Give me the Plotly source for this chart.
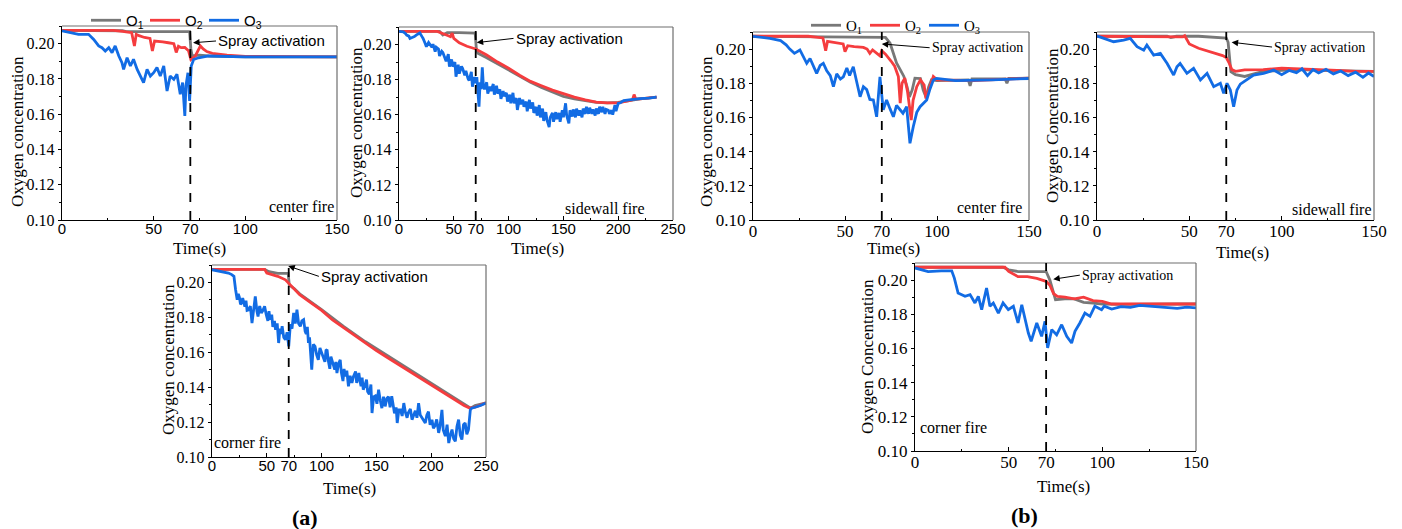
import plotly.graph_objects as go

# ---------------- DATA ----------------
# (a) center fire
a_c_t1 = [0, 20, 33, 35, 55, 69.6, 70.3, 71, 75, 80, 100, 150]
a_c_o1 = [0.2075, 0.2075, 0.2073, 0.2068, 0.2068, 0.2068, 0.197, 0.193, 0.1935, 0.193, 0.1925, 0.1925]
a_c_t2 = [0, 28, 33, 38, 39.5, 40.5, 42, 45, 48, 49.3, 50.5, 52, 55, 58, 61, 62.3, 63.5, 65, 67, 69, 70.3, 72.7, 74, 75.5, 77, 79, 82, 86, 90, 100, 150]
a_c_o2 = [0.2075, 0.2075, 0.207, 0.2062, 0.1987, 0.2053, 0.2045, 0.2035, 0.203, 0.1958, 0.2015, 0.2012, 0.201, 0.2005, 0.2, 0.195, 0.1985, 0.1977, 0.1978, 0.196, 0.191, 0.193, 0.196, 0.1987, 0.197, 0.1955, 0.1945, 0.194, 0.1935, 0.1928, 0.1925]
a_c_t3 = [0, 9, 14.5, 17.3, 20, 21.8, 23.6, 25.5, 27.3, 29, 31, 32.7, 33.6, 35.5, 37.3, 39, 41, 42.7, 44.5, 46.4, 48.2, 50, 51.8, 53.6, 55.5, 57.3, 59, 61, 62.7, 64.5, 65.8, 67, 67.6, 68.7, 69.6, 70.5, 71.8, 74.5, 80, 100, 150]
a_c_o3 = [0.2072, 0.2053, 0.2053, 0.2024, 0.1987, 0.1977, 0.1958, 0.1977, 0.1949, 0.1987, 0.193, 0.1892, 0.1854, 0.192, 0.1873, 0.1911, 0.1854, 0.1816, 0.1779, 0.1854, 0.1816, 0.1835, 0.1864, 0.1816, 0.1873, 0.1731, 0.1816, 0.1797, 0.1826, 0.1713, 0.1779, 0.159, 0.1760, 0.1835, 0.1675, 0.1873, 0.191, 0.192, 0.193, 0.1925, 0.1925]

# (a) sidewall fire
a_s_t1 = [0, 37, 40, 44, 55, 69.5, 70.5, 72, 80, 90, 100, 110, 120, 130, 140, 150, 160, 170, 180, 190, 200, 210, 220, 235]
a_s_o1 = [0.2075, 0.2075, 0.2055, 0.2068, 0.2068, 0.2065, 0.198, 0.195, 0.1925, 0.189, 0.1855, 0.182, 0.1785, 0.1755, 0.173, 0.1705, 0.169, 0.1678, 0.167, 0.1668, 0.167, 0.168, 0.169, 0.170]
a_s_t2 = [0, 35, 45, 47, 48.5, 50, 55, 62, 70, 80, 90, 100, 110, 120, 130, 140, 150, 160, 170, 180, 190, 200, 210, 213, 214.5, 216, 220, 235]
a_s_o2 = [0.2075, 0.2075, 0.205, 0.2045, 0.2065, 0.2035, 0.201, 0.199, 0.1975, 0.194, 0.190, 0.1865, 0.1825, 0.179, 0.1765, 0.174, 0.172, 0.170, 0.1685, 0.1672, 0.1668, 0.1668, 0.168, 0.1685, 0.1715, 0.169, 0.169, 0.170]
a_s_o3_pts = [(0, 0.2075), (2, 0.2074), (4, 0.2072), (6, 0.2062), (7, 0.2054), (9, 0.2048), (10, 0.2035), (12, 0.204), (14, 0.2045), (16, 0.2055), (19, 0.2066), (21, 0.2045), (22, 0.2035), (24, 0.2005), (25, 0.1988), (27, 0.2012), (28, 0.200), (30, 0.1985), (31, 0.2002), (33, 0.196), (34, 0.1985), (36, 0.1975), (37, 0.1935), (39, 0.1962), (40, 0.1955), (42, 0.1925), (43, 0.1905), (45, 0.1945), (46, 0.1874), (48, 0.1915), (49, 0.1874), (51, 0.190), (52, 0.1817), (54, 0.1885), (55, 0.1835), (57, 0.1875), (58, 0.1865), (60, 0.1825), (61, 0.185), (63, 0.1805), (64, 0.1795), (66, 0.1845), (67, 0.176), (69, 0.1815), (70, 0.178), (71, 0.1815), (72, 0.1705), (73, 0.1646), (74, 0.1785), (75, 0.1745), (76, 0.187), (77, 0.1765), (78, 0.1745), (80, 0.1785), (81, 0.172), (83, 0.176), (84, 0.1735), (86, 0.1775), (87, 0.1715), (89, 0.1765), (90, 0.172), (92, 0.1745), (93, 0.169), (95, 0.1735), (96, 0.1705), (98, 0.1725), (99, 0.1675), (101, 0.1715), (102, 0.1665), (104, 0.1725), (105, 0.1665), (107, 0.1695), (108, 0.1627), (110, 0.1695), (111, 0.166), (113, 0.1685), (114, 0.1645), (116, 0.1675), (117, 0.162), (119, 0.1685), (120, 0.1635), (122, 0.167), (123, 0.161), (125, 0.1645), (126, 0.1595), (128, 0.1655), (129, 0.1585), (131, 0.1635), (132, 0.1565), (134, 0.1615), (135, 0.157), (137, 0.153), (138, 0.1585), (140, 0.161), (141, 0.156), (143, 0.1615), (144, 0.1575), (146, 0.161), (147, 0.156), (149, 0.1625), (150, 0.1585), (152, 0.1665), (153, 0.1595), (155, 0.155), (156, 0.1625), (158, 0.159), (159, 0.163), (161, 0.1585), (162, 0.1635), (164, 0.1595), (165, 0.1625), (167, 0.1585), (168, 0.1635), (170, 0.1605), (171, 0.1645), (173, 0.1605), (174, 0.164), (176, 0.1605), (177, 0.163), (179, 0.1595), (180, 0.1635), (182, 0.1605), (183, 0.1645), (185, 0.1615), (186, 0.1645), (188, 0.1605), (189, 0.163), (191, 0.1625), (192, 0.1605), (194, 0.1625), (195, 0.160), (197, 0.1655), (198, 0.162), (200, 0.1665), (202, 0.1668), (205, 0.168), (210, 0.1685), (215, 0.169), (220, 0.1692), (228, 0.1695), (235, 0.170)]

# (a) corner fire
a_k_t1 = [0, 48, 52, 60, 69.5, 70.5, 75, 80, 100, 120, 140, 160, 180, 200, 220, 230, 236, 240, 250]
a_k_o1 = [0.2075, 0.2075, 0.2062, 0.2052, 0.2052, 0.1985, 0.1965, 0.1935, 0.1845, 0.1748, 0.166, 0.158, 0.15, 0.142, 0.134, 0.130, 0.128, 0.1295, 0.131]
a_k_t2 = [0, 48, 50, 55, 60, 67, 70, 75, 80, 90, 100, 110, 120, 130, 140, 150, 160, 170, 180, 190, 200, 210, 220, 230, 235, 240, 250]
a_k_o2 = [0.2075, 0.2075, 0.2054, 0.2045, 0.2035, 0.2015, 0.1995, 0.196, 0.193, 0.1885, 0.184, 0.1785, 0.174, 0.1695, 0.165, 0.161, 0.157, 0.153, 0.149, 0.145, 0.141, 0.137, 0.1335, 0.1295, 0.128, 0.1285, 0.131]
a_k_o3_pts = [(0, 0.2073), (5, 0.2068), (10, 0.2062), (15, 0.2054), (18, 0.2045), (20, 0.2035), (21.5, 0.196), (23, 0.1901), (24, 0.1935), (25, 0.1915), (26, 0.1875), (27, 0.1882), (28, 0.191), (29, 0.1875), (30, 0.1862), (31, 0.1895), (32, 0.184), (33.5, 0.1843), (35, 0.1865), (36.5, 0.1767), (38, 0.184), (39.5, 0.192), (41, 0.1835), (42, 0.1805), (43.5, 0.1865), (45, 0.1825), (46.5, 0.184), (48, 0.1863), (49.5, 0.1815), (51, 0.178), (52, 0.1835), (53, 0.1787), (54.5, 0.1815), (55.5, 0.1745), (57, 0.178), (58, 0.1729), (59.5, 0.1765), (60.8, 0.1653), (62, 0.1735), (63, 0.1705), (64, 0.1749), (65.5, 0.1685), (67, 0.1672), (68.5, 0.1715), (70, 0.1634), (71.5, 0.176), (73, 0.1735), (74.5, 0.1825), (76, 0.1765), (77.5, 0.1844), (79, 0.1765), (80.6, 0.1749), (82, 0.178), (83.6, 0.1787), (85, 0.172), (86, 0.1705), (87, 0.1745), (88, 0.1653), (89, 0.1685), (90, 0.1615), (91, 0.150), (92.5, 0.1645), (94, 0.1634), (95.5, 0.1585), (97, 0.1557), (98.5, 0.1625), (100, 0.1596), (101.5, 0.1565), (103, 0.1545), (104, 0.161), (105, 0.1615), (106, 0.1555), (107.5, 0.1505), (108.5, 0.1575), (109.5, 0.1557), (111, 0.1525), (112, 0.150), (113, 0.1545), (114, 0.1481), (115.5, 0.1535), (117, 0.1557), (118, 0.1485), (119.5, 0.1435), (120.5, 0.1505), (121.6, 0.1462), (123, 0.1495), (124.5, 0.1405), (126, 0.1465), (127.7, 0.1424), (129, 0.146), (131, 0.149), (132, 0.1425), (134, 0.1481), (135, 0.1435), (136, 0.1405), (137, 0.1455), (138, 0.1386), (139.5, 0.141), (141, 0.1443), (142, 0.1375), (143.5, 0.136), (145, 0.1415), (146, 0.1252), (147.5, 0.1345), (149, 0.135), (150.5, 0.1305), (152, 0.1386), (153.5, 0.1325), (155, 0.128), (156.5, 0.1345), (158, 0.129), (159.5, 0.1335), (161, 0.1345), (162.5, 0.1285), (164, 0.1348), (165, 0.131), (166.5, 0.125), (168, 0.1285), (169, 0.1195), (170.5, 0.127), (172, 0.127), (173.5, 0.1235), (175, 0.1309), (176.5, 0.1255), (178, 0.1225), (179, 0.1252), (181, 0.1275), (182.5, 0.1214), (184, 0.1245), (185.5, 0.1265), (187, 0.1225), (188.5, 0.1309), (190, 0.124), (191.5, 0.1225), (193, 0.121), (194.6, 0.1195), (196, 0.124), (197.5, 0.126), (199, 0.1185), (200.7, 0.1214), (202, 0.1165), (203.5, 0.118), (205, 0.1215), (206.8, 0.1138), (208, 0.1175), (209.8, 0.127), (211, 0.1155), (212.9, 0.112), (214.5, 0.1185), (216, 0.108), (217.5, 0.1125), (219, 0.1157), (220.5, 0.1105), (222, 0.109), (223.5, 0.1175), (225, 0.1214), (226.5, 0.1125), (228, 0.110), (229.5, 0.1185), (231, 0.1195), (232.5, 0.113), (234, 0.1157), (235.7, 0.127), (237, 0.128), (240, 0.1285), (245, 0.1295), (250, 0.131)]

# (b) center fire
b_c_t1 = [0, 30, 60, 70, 72, 74.5, 76, 78, 80, 82, 83.7, 85, 86.5, 88, 91, 92.5, 94, 95.5, 97, 100, 117, 118, 119, 137, 138, 139, 150]
b_c_o1 = [0.2075, 0.2072, 0.207, 0.207, 0.2068, 0.2034, 0.198, 0.1919, 0.188, 0.184, 0.178, 0.172, 0.176, 0.183, 0.1828, 0.176, 0.172, 0.178, 0.182, 0.1815, 0.182, 0.1785, 0.1825, 0.1825, 0.180, 0.1828, 0.183]
b_c_t2 = [0, 30, 38, 39.5, 40.5, 45, 49, 50, 51.5, 55, 60, 62, 63.5, 65, 67.5, 69, 70, 72, 75, 77, 79, 80, 81, 82.5, 84, 86, 87, 89, 91, 93, 94, 96, 98, 100, 120, 150]
b_c_o2 = [0.2075, 0.2075, 0.2065, 0.199, 0.2045, 0.2035, 0.203, 0.1985, 0.202, 0.2015, 0.201, 0.2, 0.1975, 0.1995, 0.197, 0.196, 0.199, 0.197, 0.193, 0.190, 0.184, 0.1684, 0.180, 0.183, 0.175, 0.1585, 0.170, 0.178, 0.182, 0.179, 0.171, 0.178, 0.184, 0.182, 0.1815, 0.183]
b_c_t3 = [0, 9.2, 15, 18, 20, 22.5, 25.5, 27, 29.2, 31, 33, 34.6, 36.5, 38.2, 40, 42, 43.7, 45.5, 47.5, 49.1, 51, 52.5, 54.5, 56.5, 58.2, 60, 61.8, 63.5, 65.4, 67.2, 69, 70.8, 72.6, 74.5, 76.3, 78, 79.9, 81.5, 83.5, 85.3, 87.1, 89, 90.8, 92.5, 94.4, 96, 98, 99.8, 110, 130, 150]
b_c_o3 = [0.2075, 0.2063, 0.205, 0.2025, 0.200, 0.1975, 0.1995, 0.1965, 0.1917, 0.1945, 0.1895, 0.1858, 0.1905, 0.1917, 0.1875, 0.1845, 0.178, 0.1855, 0.1825, 0.1838, 0.189, 0.1845, 0.1897, 0.181, 0.1721, 0.178, 0.1763, 0.1705, 0.1702, 0.1604, 0.1838, 0.1644, 0.1702, 0.165, 0.1604, 0.167, 0.1644, 0.1625, 0.1663, 0.1449, 0.1546, 0.163, 0.1663, 0.168, 0.1702, 0.176, 0.1819, 0.1829, 0.1815, 0.182, 0.1828]

# (b) sidewall fire
b_s_t1 = [0, 38, 40, 43, 55, 65, 70, 71, 72.5, 75, 80, 85, 90, 100, 110, 120, 130, 140, 150]
b_s_o1 = [0.2075, 0.2075, 0.2068, 0.2075, 0.2075, 0.207, 0.2065, 0.204, 0.1868, 0.185, 0.184, 0.1855, 0.187, 0.1875, 0.188, 0.1875, 0.1872, 0.187, 0.187]
b_s_t2 = [0, 45, 46.5, 47.5, 50, 55, 62, 68, 70, 71.5, 73, 75, 80, 90, 100, 110, 120, 130, 140, 150]
b_s_o2 = [0.2075, 0.2075, 0.2072, 0.2078, 0.203, 0.2005, 0.198, 0.1962, 0.195, 0.192, 0.188, 0.187, 0.1878, 0.188, 0.1888, 0.1882, 0.188, 0.1875, 0.187, 0.187]
b_s_t3 = [0, 9, 14.4, 18, 21.7, 25.3, 27, 30.7, 34.3, 38, 41.5, 43.3, 45, 48.7, 52.3, 56, 59.6, 63.2, 66.8, 68.6, 70.4, 72.2, 74, 75.8, 77.6, 81.2, 84.8, 90.2, 95.7, 100, 104, 108, 111, 114, 117, 120, 124, 128, 132, 136, 140, 144, 147, 150]
b_s_o3 = [0.2077, 0.2043, 0.2053, 0.2063, 0.2014, 0.1994, 0.2024, 0.1965, 0.1975, 0.1916, 0.1848, 0.1897, 0.1916, 0.1858, 0.1887, 0.1819, 0.1858, 0.178, 0.18, 0.1741, 0.18, 0.1761, 0.1663, 0.1761, 0.1795, 0.1819, 0.1848, 0.1858, 0.1877, 0.185, 0.1875, 0.1862, 0.1885, 0.1845, 0.188, 0.186, 0.1882, 0.1855, 0.1872, 0.1845, 0.1865, 0.1835, 0.186, 0.184]

# (b) corner fire
b_k_t1 = [0, 47, 50, 55, 70, 72, 75, 80, 85, 90, 95, 100, 110, 120, 130, 140, 150]
b_k_o1 = [0.2075, 0.2075, 0.206, 0.205, 0.205, 0.200, 0.1885, 0.189, 0.189, 0.187, 0.1866, 0.186, 0.1858, 0.186, 0.186, 0.186, 0.186]
b_k_t2 = [0, 48, 50, 55, 60, 65, 70, 72, 74, 76, 80, 85, 90, 95, 100, 105, 110, 120, 130, 140, 150]
b_k_o2 = [0.2075, 0.2075, 0.2051, 0.202, 0.202, 0.201, 0.1993, 0.197, 0.192, 0.1905, 0.190, 0.189, 0.190, 0.188, 0.1875, 0.186, 0.186, 0.186, 0.1862, 0.186, 0.186]
b_k_t3 = [0, 7, 14, 19.6, 21, 23, 26.7, 29.4, 32, 33.8, 35.6, 38.2, 40, 41.8, 44.5, 47, 49.8, 52.5, 55, 57, 60.5, 62, 65, 67.6, 69.4, 70.8, 73, 75.6, 78.3, 81, 83.6, 85.4, 88, 90.7, 93.4, 96, 99.6, 101, 105, 110, 115, 120, 125, 130, 135, 140, 145, 150]
b_k_o3 = [0.2071, 0.205, 0.2054, 0.2054, 0.2012, 0.1924, 0.1905, 0.1915, 0.1866, 0.1905, 0.1827, 0.1954, 0.1847, 0.1866, 0.1807, 0.1866, 0.1827, 0.1847, 0.1749, 0.1856, 0.169, 0.1642, 0.1749, 0.1671, 0.1759, 0.1603, 0.171, 0.168, 0.1739, 0.1671, 0.1632, 0.170, 0.1749, 0.1807, 0.1788, 0.1847, 0.1827, 0.1847, 0.183, 0.1845, 0.184, 0.1852, 0.1848, 0.1845, 0.184, 0.1835, 0.1842, 0.1838]

x_ticks_150 = [0, 50, 70, 100, 150]
x_ticks_250 = [0, 50, 70, 100, 150, 200, 250]
y_ticks = [0.10, 0.12, 0.14, 0.16, 0.18, 0.20]
series_names = ["O<sub>1</sub>", "O<sub>2</sub>", "O<sub>3</sub>"]

a_s_t3 = [p[0] for p in a_s_o3_pts]
a_s_o3 = [p[1] for p in a_s_o3_pts]
a_k_t3 = [p[0] for p in a_k_o3_pts]
a_k_o3 = [p[1] for p in a_k_o3_pts]

# ---------------- STYLE ----------------
C_GRAY = "rgb(120,120,120)"
C_RED = "rgb(245,60,62)"
C_BLUE = "rgb(18,108,228)"
SERIF = "Liberation Serif"
SANS = "Liberation Sans"
OFF = 8                      # page body margin of the html page
W, H = 1402 - OFF, 529 - OFF


def fx(px):
    return (px - OFF) / W


def fy(py):
    return 1 - (py - OFF) / H


def dx(a, b):
    return [fx(a), fx(b)]


def dy(top, bottom):
    return [fy(bottom), fy(top)]


panels = [
    dict(s=[(a_c_t1, a_c_o1), (a_c_t2, a_c_o2), (a_c_t3, a_c_o3)], xmax=150, xt=x_ticks_150, xd=(62, 337), yd=(26, 220), xf=SANS, legend="legend"),
    dict(s=[(a_s_t1, a_s_o1), (a_s_t2, a_s_o2), (a_s_t3, a_s_o3)], xmax=250, xt=x_ticks_250, xd=(399, 673), yd=(27, 220), xf=SANS, legend=None),
    dict(s=[(b_c_t1, b_c_o1), (b_c_t2, b_c_o2), (b_c_t3, b_c_o3)], xmax=150, xt=x_ticks_150, xd=(753, 1029), yd=(32, 220), xf=SERIF, legend="legend2"),
    dict(s=[(b_s_t1, b_s_o1), (b_s_t2, b_s_o2), (b_s_t3, b_s_o3)], xmax=150, xt=x_ticks_150, xd=(1097, 1374), yd=(32, 220), xf=SERIF, legend=None),
    dict(s=[(a_k_t1, a_k_o1), (a_k_t2, a_k_o2), (a_k_t3, a_k_o3)], xmax=250, xt=x_ticks_250, xd=(212, 486), yd=(265, 457), xf=SANS, legend=None),
    dict(s=[(b_k_t1, b_k_o1), (b_k_t2, b_k_o2), (b_k_t3, b_k_o3)], xmax=150, xt=x_ticks_150, xd=(915, 1196), yd=(263, 451), xf=SERIF, legend=None),
]

colors = [C_GRAY, C_RED, C_BLUE]

fig = go.Figure()
layout = {}
shapes = []
annotations = []

for i, p in enumerate(panels):
    k = "" if i == 0 else str(i + 1)
    xa, ya = "x" + k, "y" + k
    for j, (t, v) in enumerate(p["s"]):
        fig.add_trace(go.Scatter(
            x=t, y=v, mode="lines", name=series_names[j], xaxis=xa, yaxis=ya,
            line=dict(color=colors[j], width=2.8),
            showlegend=p["legend"] is not None,
            legend=p["legend"] if p["legend"] else "legend",
        ))
    minor_x = [m for m in range(25, p["xmax"], 50)]
    layout["xaxis" + k] = dict(
        domain=dx(*p["xd"]), anchor=ya, range=[0, p["xmax"]], automargin=False,
        tickvals=p["xt"], ticks="inside", ticklen=4, tickwidth=1, tickcolor="black",
        ticklabelstandoff=-5,
        showline=True, linecolor="black", linewidth=1.4, showgrid=False, zeroline=False,
        tickfont=dict(family=p["xf"], size=15 if p["xf"] == SANS else 17, color="black"),
        minor=dict(tickvals=minor_x, ticks="inside", ticklen=2, tickcolor="black"),
    )
    layout["yaxis" + k] = dict(
        domain=dy(*p["yd"]), anchor=xa, range=[0.10, 0.21], automargin=False,
        tickvals=y_ticks, tickformat=".2f", ticks="outside", ticklen=3, tickwidth=1, tickcolor="black",
        showline=True, linecolor="black", linewidth=1.4, showgrid=False, zeroline=False,
        tickfont=dict(family=SERIF, size=16 if p["xf"] == SANS else 17, color="black"),
        minor=dict(tickvals=[0.11, 0.13, 0.15, 0.17, 0.19, 0.21], ticks="outside", ticklen=2, tickcolor="black"),
    )
    shapes.append(dict(type="line", xref=xa + " domain", yref=ya + " domain", x0=0, x1=1, y0=1, y1=1,
                       line=dict(color="rgb(110,110,110)", width=1.2)))
    shapes.append(dict(type="line", xref=xa + " domain", yref=ya + " domain", x0=1, x1=1, y0=0, y1=1,
                       line=dict(color="rgb(110,110,110)", width=1.2)))
    shapes.append(dict(type="line", xref=xa, yref=ya, x0=70, x1=70, y0=0.10, y1=0.21,
                       line=dict(color="black", width=1.8, dash="dash")))

# spray activation: arrow head (t, v) and text start (t, v)
arrows = [
    (71.5, 0.2005, 84.0, 0.2015, SANS, 15),
    (70.9, 0.2011, 104.5, 0.2035, SANS, 15),
    (70.0, 0.2030, 96.0, 0.2008, SERIF, 14),
    (72.9, 0.2040, 94.8, 0.2012, SERIF, 14),
    (69.6, 0.2094, 97.5, 0.2035, SANS, 15),
    (73.8, 0.2005, 88.0, 0.2029, SERIF, 14),
]
for i, (hx, hy, sx, sy, fam, fs) in enumerate(arrows):
    k = "" if i == 0 else str(i + 1)
    xa, ya = "x" + k, "y" + k
    annotations.append(dict(xref=xa, yref=ya, x=hx, y=hy, axref=xa, ayref=ya, ax=sx, ay=sy,
                            text="Spray activation", showarrow=True, arrowhead=2, arrowsize=1.3,
                            arrowwidth=1, arrowcolor="black", xanchor="left", yanchor="middle",
                            font=dict(family=fam, size=fs, color="black")))

fire = [
    ("center fire", 149.5, 0.1074, "right"),
    ("sidewall fire", 226.0, 0.1068, "right"),
    ("center fire", 147.5, 0.1076, "right"),
    ("sidewall fire", 149.8, 0.1059, "right"),
    ("corner fire", 0.3, 0.1082, "left"),
    ("corner fire", 1.5, 0.1135, "left"),
]
for i, (txt, lx, ly, anc) in enumerate(fire):
    k = "" if i == 0 else str(i + 1)
    annotations.append(dict(xref="x" + k, yref="y" + k, x=lx, y=ly, text=txt, showarrow=False,
                            xanchor=anc, yanchor="middle",
                            font=dict(family=SERIF, size=16, color="black")))

xt_pos = [(199, 248), (537, 248), (893, 249), (1242, 252), (349, 488), (1063, 486)]
yt_pos = [(18, 132, "Oxygen concentration"), (356, 123, "Oxygen concentration"),
          (707, 132, "Oxygen concentration"), (1052, 126, "Oxygen Concentration"),
          (168, 360, "Oxygen concentration"), (867, 357, "Oxygen Concentration")]
for (px, py) in xt_pos:
    annotations.append(dict(xref="paper", yref="paper", x=fx(px), y=fy(py), text="Time(s)",
                            showarrow=False, xanchor="center", yanchor="middle",
                            font=dict(family=SERIF, size=17, color="black")))
for (px, py, txt) in yt_pos:
    annotations.append(dict(xref="paper", yref="paper", x=fx(px), y=fy(py), text=txt,
                            showarrow=False, xanchor="center", yanchor="middle", textangle=-90,
                            font=dict(family=SERIF, size=17, color="black")))

annotations.append(dict(xref="paper", yref="paper", x=fx(290), y=fy(517), text="<b>(a)</b>",
                        showarrow=False, yanchor="middle",
                        font=dict(family=SERIF, size=22, color="black")))
annotations.append(dict(xref="paper", yref="paper", x=fx(1040), y=fy(515), text="<b>(b)</b>",
                        showarrow=False, yanchor="middle",
                        font=dict(family=SERIF, size=22, color="black")))

fig.update_layout(
    width=W, height=H, margin=dict(l=0, r=0, t=0, b=0, autoexpand=False),
    plot_bgcolor="white", paper_bgcolor="white",
    shapes=shapes, annotations=annotations,
    legend=dict(orientation="h", x=fx(86), y=fy(4), xanchor="left", yanchor="top",
                font=dict(family=SANS, size=15, color="black"), bgcolor="rgba(0,0,0,0)",
                itemwidth=30, entrywidth=14),
    legend2=dict(orientation="h", x=fx(806), y=fy(9), xanchor="left", yanchor="top",
                 font=dict(family=SERIF, size=15, color="black"), bgcolor="rgba(0,0,0,0)",
                 itemwidth=30, entrywidth=14),
    **layout,
)

fig.write_html("out.html")
